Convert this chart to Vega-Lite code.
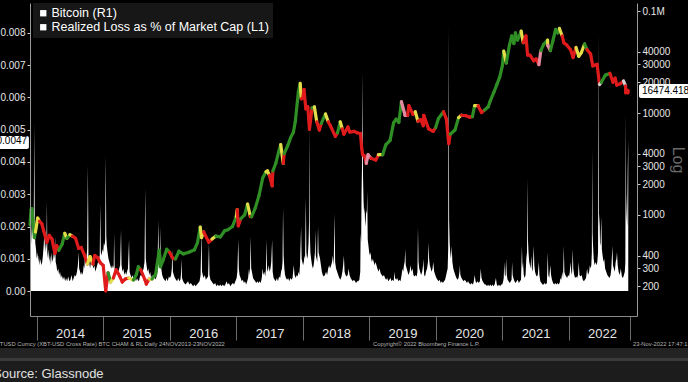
{
"$schema": "https://vega.github.io/schema/vega-lite/v6.json",
"width": 607, "height": 313, "autosize": "none",
"padding": {"left": 30, "top": 3, "right": 51, "bottom": 66},
"background": "#000000",
"config": {"view": {"stroke": null}, "font": "Liberation Sans"},
"resolve": {"scale": {"y": "independent"}, "axis": {"y": "independent", "x": "independent"}},
"layer": [
{"data": {"values": [{}]}, "mark": {"type": "rect", "color": "#232323"},
 "encoding": {
  "x": {"datum": 1364774400000, "type": "temporal", "scale": {"domain": [1385251200000, 1673308800000], "nice": false}, "axis": null},
  "x2": {"datum": 1704067200000},
  "y": {"datum": -0.001767, "type": "quantitative", "scale": {"domain": [-0.000775, 0.00893], "nice": false, "zero": false}, "axis": null},
  "y2": {"datum": -0.002077}}},
{"data": {"values": [{}]}, "mark": {"type": "rect", "color": "#3a3a3a"},
 "encoding": {
  "x": {"datum": 1364774400000, "type": "temporal", "scale": {"domain": [1385251200000, 1673308800000], "nice": false}, "axis": null},
  "x2": {"datum": 1704067200000},
  "y": {"datum": -0.002077, "type": "quantitative", "scale": {"domain": [-0.000775, 0.00893], "nice": false, "zero": false}, "axis": null},
  "y2": {"datum": -0.00217}}},
{"data": {"values": [{}]}, "mark": {"type": "rect", "color": "#1c1c1c"},
 "encoding": {
  "x": {"datum": 1364774400000, "type": "temporal", "scale": {"domain": [1385251200000, 1673308800000], "nice": false}, "axis": null},
  "x2": {"datum": 1704067200000},
  "y": {"datum": -0.00217, "type": "quantitative", "scale": {"domain": [-0.000775, 0.00893], "nice": false, "zero": false}, "axis": null},
  "y2": {"datum": -0.003225}}},
{"data": {"values": [
{"d":"2013-11-24","v":0.0016},{"d":"2013-11-27","v":0.0012},{"d":"2013-11-30","v":0.0015},{"d":"2013-12-03","v":0.0019},{"d":"2013-12-06","v":0.0024},{"d":"2013-12-09","v":0.0018},{"d":"2013-12-12","v":0.0021},{"d":"2013-12-15","v":0.0026},{"d":"2013-12-18","v":0.0052},{"d":"2013-12-20","v":0.0022},{"d":"2013-12-23","v":0.0015},{"d":"2013-12-27","v":0.0013},{"d":"2013-12-31","v":0.0010},
{"d":"2014-01-04","v":0.0012},{"d":"2014-01-08","v":0.0009},{"d":"2014-01-12","v":0.0011},{"d":"2014-01-16","v":0.0008},{"d":"2014-01-20","v":0.0010},{"d":"2014-01-25","v":0.0008},{"d":"2014-01-30","v":0.0009},{"d":"2014-02-03","v":0.0011},{"d":"2014-02-07","v":0.0014},{"d":"2014-02-11","v":0.0018},{"d":"2014-02-15","v":0.0012},{"d":"2014-02-19","v":0.0015},{"d":"2014-02-22","v":0.0013},{"d":"2014-02-25","v":0.0028},{"d":"2014-02-27","v":0.0012},{"d":"2014-03-03","v":0.0010},{"d":"2014-03-07","v":0.0013},{"d":"2014-03-11","v":0.0009},{"d":"2014-03-15","v":0.0011},{"d":"2014-03-19","v":0.0008},{"d":"2014-03-23","v":0.0012},{"d":"2014-03-27","v":0.0009},{"d":"2014-03-31","v":0.0010},{"d":"2014-04-04","v":0.0012},{"d":"2014-04-08","v":0.0010},{"d":"2014-04-11","v":0.0017},{"d":"2014-04-14","v":0.0009},{"d":"2014-04-18","v":0.0008},{"d":"2014-04-23","v":0.0006},{"d":"2014-04-28","v":0.0007},{"d":"2014-05-03","v":0.0005},{"d":"2014-05-08","v":0.0006},{"d":"2014-05-13","v":0.0004},{"d":"2014-05-18","v":0.0005},{"d":"2014-05-24","v":0.00035},{"d":"2014-05-30","v":0.00045},{"d":"2014-06-05","v":0.0003},{"d":"2014-06-10","v":0.0004},{"d":"2014-06-16","v":0.0003},{"d":"2014-06-22","v":0.00045},{"d":"2014-06-28","v":0.0003},{"d":"2014-07-04","v":0.00035},{"d":"2014-07-10","v":0.0005},{"d":"2014-07-16","v":0.0003},{"d":"2014-07-22","v":0.0004},{"d":"2014-07-28","v":0.0005},{"d":"2014-08-03","v":0.00045},{"d":"2014-08-09","v":0.0006},{"d":"2014-08-14","v":0.0008},{"d":"2014-08-18","v":0.0012},{"d":"2014-08-21","v":0.0007},{"d":"2014-08-26","v":0.0006},{"d":"2014-08-31","v":0.0005},{"d":"2014-09-05","v":0.0006},{"d":"2014-09-10","v":0.0005},{"d":"2014-09-15","v":0.0008},{"d":"2014-09-19","v":0.0007},{"d":"2014-09-22","v":0.0012},{"d":"2014-09-26","v":0.0009},{"d":"2014-09-30","v":0.0010},{"d":"2014-10-04","v":0.0013},{"d":"2014-10-08","v":0.0039},{"d":"2014-10-11","v":0.0011},{"d":"2014-10-15","v":0.0009},{"d":"2014-10-20","v":0.0007},{"d":"2014-10-25","v":0.0009},{"d":"2014-10-30","v":0.0010},{"d":"2014-11-03","v":0.0008},{"d":"2014-11-08","v":0.0007},{"d":"2014-11-13","v":0.0008},{"d":"2014-11-18","v":0.0006},{"d":"2014-11-23","v":0.0007},{"d":"2014-11-28","v":0.0008},{"d":"2014-12-03","v":0.0009},{"d":"2014-12-08","v":0.0010},{"d":"2014-12-12","v":0.0011},{"d":"2014-12-15","v":0.0027},{"d":"2014-12-18","v":0.0012},{"d":"2014-12-22","v":0.0011},{"d":"2014-12-27","v":0.0013},{"d":"2014-12-31","v":0.0012},
{"d":"2015-01-04","v":0.0015},{"d":"2015-01-08","v":0.0014},{"d":"2015-01-11","v":0.0016},{"d":"2015-01-14","v":0.0042},{"d":"2015-01-17","v":0.0017},{"d":"2015-01-20","v":0.0014},{"d":"2015-01-24","v":0.0012},{"d":"2015-01-29","v":0.0010},{"d":"2015-02-03","v":0.0009},{"d":"2015-02-08","v":0.0008},{"d":"2015-02-13","v":0.0007},{"d":"2015-02-18","v":0.0008},{"d":"2015-02-23","v":0.0007},{"d":"2015-02-27","v":0.0008},{"d":"2015-03-01","v":0.0018},{"d":"2015-03-04","v":0.0007},{"d":"2015-03-09","v":0.0006},{"d":"2015-03-14","v":0.0005},{"d":"2015-03-19","v":0.0007},{"d":"2015-03-24","v":0.0006},{"d":"2015-03-29","v":0.0007},{"d":"2015-04-03","v":0.0008},{"d":"2015-04-08","v":0.0019},{"d":"2015-04-11","v":0.0008},{"d":"2015-04-16","v":0.0006},{"d":"2015-04-21","v":0.0007},{"d":"2015-04-26","v":0.0005},{"d":"2015-05-01","v":0.0006},{"d":"2015-05-06","v":0.0005},{"d":"2015-05-11","v":0.0006},{"d":"2015-05-16","v":0.0007},{"d":"2015-05-22","v":0.0016},{"d":"2015-05-25","v":0.0006},{"d":"2015-05-30","v":0.0005},{"d":"2015-06-05","v":0.0004},{"d":"2015-06-11","v":0.0005},{"d":"2015-06-17","v":0.0003},{"d":"2015-06-23","v":0.0004},{"d":"2015-06-29","v":0.0003},{"d":"2015-07-05","v":0.0004},{"d":"2015-07-11","v":0.0003},{"d":"2015-07-17","v":0.00035},{"d":"2015-07-23","v":0.0005},{"d":"2015-07-29","v":0.00045},{"d":"2015-08-04","v":0.0006},{"d":"2015-08-10","v":0.0007},{"d":"2015-08-15","v":0.0009},{"d":"2015-08-19","v":0.0032},{"d":"2015-08-22","v":0.0010},{"d":"2015-08-26","v":0.0008},{"d":"2015-08-31","v":0.0006},{"d":"2015-09-05","v":0.0007},{"d":"2015-09-10","v":0.0005},{"d":"2015-09-15","v":0.0006},{"d":"2015-09-20","v":0.0004},{"d":"2015-09-26","v":0.0005},{"d":"2015-10-02","v":0.0004},{"d":"2015-10-08","v":0.0005},{"d":"2015-10-14","v":0.00035},{"d":"2015-10-20","v":0.00045},{"d":"2015-10-25","v":0.0006},{"d":"2015-10-30","v":0.0022},{"d":"2015-11-02","v":0.0008},{"d":"2015-11-06","v":0.0009},{"d":"2015-11-09","v":0.0007},{"d":"2015-11-12","v":0.0020},{"d":"2015-11-15","v":0.0007},{"d":"2015-11-20","v":0.0005},{"d":"2015-11-26","v":0.0004},{"d":"2015-12-02","v":0.00035},{"d":"2015-12-08","v":0.0003},{"d":"2015-12-14","v":0.0004},{"d":"2015-12-20","v":0.0003},{"d":"2015-12-27","v":0.00045},
{"d":"2016-01-02","v":0.0004},{"d":"2016-01-08","v":0.0005},{"d":"2016-01-12","v":0.0007},{"d":"2016-01-15","v":0.0013},{"d":"2016-01-18","v":0.0006},{"d":"2016-01-23","v":0.0005},{"d":"2016-01-29","v":0.0004},{"d":"2016-02-04","v":0.00035},{"d":"2016-02-10","v":0.0003},{"d":"2016-02-16","v":0.0004},{"d":"2016-02-22","v":0.0003},{"d":"2016-02-28","v":0.00035},{"d":"2016-03-02","v":0.0005},{"d":"2016-03-05","v":0.0010},{"d":"2016-03-08","v":0.0004},{"d":"2016-03-14","v":0.0003},{"d":"2016-03-20","v":0.00025},{"d":"2016-03-27","v":0.0002},{"d":"2016-04-03","v":0.00025},{"d":"2016-04-10","v":0.0003},{"d":"2016-04-17","v":0.0002},{"d":"2016-04-24","v":0.00025},{"d":"2016-05-01","v":0.0002},{"d":"2016-05-08","v":0.00015},{"d":"2016-05-15","v":0.0002},{"d":"2016-05-22","v":0.00015},{"d":"2016-05-29","v":0.0002},{"d":"2016-06-05","v":0.00025},{"d":"2016-06-12","v":0.0003},{"d":"2016-06-18","v":0.0005},{"d":"2016-06-23","v":0.0019},{"d":"2016-06-26","v":0.0006},{"d":"2016-06-30","v":0.0005},{"d":"2016-07-05","v":0.0004},{"d":"2016-07-11","v":0.0005},{"d":"2016-07-17","v":0.00035},{"d":"2016-07-23","v":0.0004},{"d":"2016-07-29","v":0.00045},{"d":"2016-08-03","v":0.0015},{"d":"2016-08-06","v":0.0005},{"d":"2016-08-11","v":0.00035},{"d":"2016-08-17","v":0.0003},{"d":"2016-08-23","v":0.00025},{"d":"2016-08-30","v":0.0002},{"d":"2016-09-06","v":0.00025},{"d":"2016-09-13","v":0.00015},{"d":"2016-09-20","v":0.0002},{"d":"2016-09-27","v":0.00015},{"d":"2016-10-04","v":0.0002},{"d":"2016-10-11","v":0.00015},{"d":"2016-10-18","v":0.0002},{"d":"2016-10-25","v":0.00015},{"d":"2016-11-01","v":0.0002},{"d":"2016-11-08","v":0.0003},{"d":"2016-11-14","v":0.0002},{"d":"2016-11-21","v":0.00025},{"d":"2016-11-28","v":0.00015},{"d":"2016-12-05","v":0.0002},{"d":"2016-12-12","v":0.00025},{"d":"2016-12-19","v":0.0002},{"d":"2016-12-26","v":0.0003},
{"d":"2017-01-02","v":0.0004},{"d":"2017-01-06","v":0.0006},{"d":"2017-01-11","v":0.0016},{"d":"2017-01-14","v":0.0007},{"d":"2017-01-18","v":0.0005},{"d":"2017-01-24","v":0.0004},{"d":"2017-01-30","v":0.0003},{"d":"2017-02-05","v":0.00035},{"d":"2017-02-11","v":0.00025},{"d":"2017-02-17","v":0.0003},{"d":"2017-02-23","v":0.0002},{"d":"2017-03-01","v":0.0003},{"d":"2017-03-06","v":0.0004},{"d":"2017-03-11","v":0.0007},{"d":"2017-03-16","v":0.0005},{"d":"2017-03-20","v":0.0017},{"d":"2017-03-23","v":0.0007},{"d":"2017-03-27","v":0.0006},{"d":"2017-04-02","v":0.0004},{"d":"2017-04-08","v":0.00035},{"d":"2017-04-14","v":0.0003},{"d":"2017-04-20","v":0.00025},{"d":"2017-04-26","v":0.0003},{"d":"2017-05-02","v":0.00025},{"d":"2017-05-08","v":0.0003},{"d":"2017-05-14","v":0.00025},{"d":"2017-05-20","v":0.0004},{"d":"2017-05-25","v":0.0007},{"d":"2017-05-29","v":0.0005},{"d":"2017-06-03","v":0.0006},{"d":"2017-06-08","v":0.00045},{"d":"2017-06-12","v":0.0007},{"d":"2017-06-15","v":0.0016},{"d":"2017-06-18","v":0.0007},{"d":"2017-06-22","v":0.0006},{"d":"2017-06-27","v":0.0008},{"d":"2017-07-02","v":0.0006},{"d":"2017-07-07","v":0.0007},{"d":"2017-07-11","v":0.0009},{"d":"2017-07-16","v":0.0016},{"d":"2017-07-19","v":0.0006},{"d":"2017-07-24","v":0.0004},{"d":"2017-07-30","v":0.00035},{"d":"2017-08-05","v":0.0003},{"d":"2017-08-11","v":0.0004},{"d":"2017-08-17","v":0.0003},{"d":"2017-08-23","v":0.00045},{"d":"2017-08-29","v":0.0004},{"d":"2017-09-03","v":0.0006},{"d":"2017-09-08","v":0.0007},{"d":"2017-09-11","v":0.0009},{"d":"2017-09-14","v":0.0026},{"d":"2017-09-17","v":0.0011},{"d":"2017-09-21","v":0.0007},{"d":"2017-09-25","v":0.0005},{"d":"2017-09-30","v":0.0004},{"d":"2017-10-06","v":0.00035},{"d":"2017-10-12","v":0.0004},{"d":"2017-10-18","v":0.0003},{"d":"2017-10-24","v":0.0004},{"d":"2017-10-30","v":0.00035},{"d":"2017-11-05","v":0.0004},{"d":"2017-11-12","v":0.0008},{"d":"2017-11-16","v":0.0005},{"d":"2017-11-22","v":0.0004},{"d":"2017-11-28","v":0.0005},{"d":"2017-12-03","v":0.00045},{"d":"2017-12-08","v":0.0006},{"d":"2017-12-12","v":0.0005},{"d":"2017-12-16","v":0.0008},{"d":"2017-12-22","v":0.0020},{"d":"2017-12-25","v":0.0010},{"d":"2017-12-29","v":0.0009},
{"d":"2018-01-02","v":0.0008},{"d":"2018-01-06","v":0.0009},{"d":"2018-01-10","v":0.0011},{"d":"2018-01-13","v":0.0010},{"d":"2018-01-17","v":0.0029},{"d":"2018-01-20","v":0.0012},{"d":"2018-01-24","v":0.0010},{"d":"2018-01-28","v":0.0011},{"d":"2018-02-01","v":0.0015},{"d":"2018-02-04","v":0.0022},{"d":"2018-02-06","v":0.0051},{"d":"2018-02-08","v":0.0018},{"d":"2018-02-11","v":0.0012},{"d":"2018-02-15","v":0.0010},{"d":"2018-02-20","v":0.0008},{"d":"2018-02-25","v":0.0007},{"d":"2018-03-01","v":0.0008},{"d":"2018-03-05","v":0.0010},{"d":"2018-03-08","v":0.0012},{"d":"2018-03-10","v":0.0019},{"d":"2018-03-13","v":0.0011},{"d":"2018-03-17","v":0.0010},{"d":"2018-03-21","v":0.0009},{"d":"2018-03-25","v":0.0020},{"d":"2018-03-28","v":0.0012},{"d":"2018-04-01","v":0.0011},{"d":"2018-04-05","v":0.0010},{"d":"2018-04-10","v":0.0008},{"d":"2018-04-15","v":0.0006},{"d":"2018-04-20","v":0.0005},{"d":"2018-04-26","v":0.00045},{"d":"2018-05-02","v":0.0005},{"d":"2018-05-08","v":0.0006},{"d":"2018-05-14","v":0.0005},{"d":"2018-05-20","v":0.0007},{"d":"2018-05-25","v":0.0008},{"d":"2018-05-30","v":0.0007},{"d":"2018-06-05","v":0.0008},{"d":"2018-06-10","v":0.0009},{"d":"2018-06-14","v":0.0011},{"d":"2018-06-19","v":0.0008},{"d":"2018-06-24","v":0.0024},{"d":"2018-06-27","v":0.0009},{"d":"2018-07-02","v":0.0007},{"d":"2018-07-08","v":0.0006},{"d":"2018-07-14","v":0.0005},{"d":"2018-07-20","v":0.0004},{"d":"2018-07-26","v":0.00035},{"d":"2018-08-01","v":0.00045},{"d":"2018-08-06","v":0.0006},{"d":"2018-08-10","v":0.0008},{"d":"2018-08-14","v":0.0011},{"d":"2018-08-18","v":0.0006},{"d":"2018-08-23","v":0.0005},{"d":"2018-08-29","v":0.00045},{"d":"2018-09-04","v":0.0005},{"d":"2018-09-09","v":0.0007},{"d":"2018-09-14","v":0.0005},{"d":"2018-09-20","v":0.0004},{"d":"2018-09-26","v":0.00035},{"d":"2018-10-02","v":0.0003},{"d":"2018-10-08","v":0.00035},{"d":"2018-10-14","v":0.0003},{"d":"2018-10-20","v":0.00025},{"d":"2018-10-26","v":0.0003},{"d":"2018-11-01","v":0.0003},{"d":"2018-11-07","v":0.00035},{"d":"2018-11-12","v":0.0006},{"d":"2018-11-14","v":0.0018},{"d":"2018-11-17","v":0.0015},{"d":"2018-11-19","v":0.0030},{"d":"2018-11-22","v":0.0040},{"d":"2018-11-25","v":0.0068},{"d":"2018-11-27","v":0.0036},{"d":"2018-11-30","v":0.0028},{"d":"2018-12-03","v":0.0024},{"d":"2018-12-06","v":0.0026},{"d":"2018-12-09","v":0.0020},{"d":"2018-12-12","v":0.0022},{"d":"2018-12-15","v":0.0025},{"d":"2018-12-18","v":0.0024},{"d":"2018-12-20","v":0.0031},{"d":"2018-12-23","v":0.0016},{"d":"2018-12-27","v":0.0014},{"d":"2018-12-31","v":0.0012},
{"d":"2019-01-04","v":0.0011},{"d":"2019-01-08","v":0.0012},{"d":"2019-01-11","v":0.0010},{"d":"2019-01-15","v":0.0009},{"d":"2019-01-20","v":0.0010},{"d":"2019-01-25","v":0.0009},{"d":"2019-01-30","v":0.0008},{"d":"2019-02-04","v":0.0009},{"d":"2019-02-09","v":0.0008},{"d":"2019-02-14","v":0.0007},{"d":"2019-02-20","v":0.0006},{"d":"2019-02-26","v":0.0007},{"d":"2019-03-04","v":0.00055},{"d":"2019-03-10","v":0.0005},{"d":"2019-03-16","v":0.00045},{"d":"2019-03-22","v":0.0005},{"d":"2019-03-28","v":0.0004},{"d":"2019-04-03","v":0.00035},{"d":"2019-04-09","v":0.0004},{"d":"2019-04-15","v":0.0003},{"d":"2019-04-21","v":0.00035},{"d":"2019-04-27","v":0.0004},{"d":"2019-05-03","v":0.0003},{"d":"2019-05-09","v":0.00035},{"d":"2019-05-15","v":0.0003},{"d":"2019-05-18","v":0.0006},{"d":"2019-05-22","v":0.0004},{"d":"2019-05-28","v":0.00035},{"d":"2019-06-03","v":0.0004},{"d":"2019-06-09","v":0.0003},{"d":"2019-06-15","v":0.00035},{"d":"2019-06-21","v":0.0003},{"d":"2019-06-27","v":0.0005},{"d":"2019-07-02","v":0.0007},{"d":"2019-07-06","v":0.0006},{"d":"2019-07-10","v":0.0008},{"d":"2019-07-14","v":0.0009},{"d":"2019-07-17","v":0.0013},{"d":"2019-07-20","v":0.0008},{"d":"2019-07-25","v":0.0007},{"d":"2019-07-30","v":0.0006},{"d":"2019-08-04","v":0.0005},{"d":"2019-08-10","v":0.0006},{"d":"2019-08-15","v":0.0008},{"d":"2019-08-20","v":0.0006},{"d":"2019-08-26","v":0.0007},{"d":"2019-08-31","v":0.0005},{"d":"2019-09-06","v":0.00045},{"d":"2019-09-12","v":0.0005},{"d":"2019-09-18","v":0.00045},{"d":"2019-09-22","v":0.0006},{"d":"2019-09-25","v":0.0020},{"d":"2019-09-28","v":0.0009},{"d":"2019-10-02","v":0.0007},{"d":"2019-10-07","v":0.0006},{"d":"2019-10-12","v":0.0005},{"d":"2019-10-18","v":0.0006},{"d":"2019-10-23","v":0.0008},{"d":"2019-10-25","v":0.0010},{"d":"2019-10-29","v":0.0005},{"d":"2019-11-03","v":0.00045},{"d":"2019-11-08","v":0.0006},{"d":"2019-11-14","v":0.0007},{"d":"2019-11-19","v":0.0009},{"d":"2019-11-22","v":0.0015},{"d":"2019-11-25","v":0.0010},{"d":"2019-11-29","v":0.0008},{"d":"2019-12-04","v":0.0007},{"d":"2019-12-09","v":0.0006},{"d":"2019-12-14","v":0.0007},{"d":"2019-12-18","v":0.0009},{"d":"2019-12-23","v":0.0006},{"d":"2019-12-29","v":0.0005},
{"d":"2020-01-04","v":0.0004},{"d":"2020-01-10","v":0.00035},{"d":"2020-01-16","v":0.0003},{"d":"2020-01-22","v":0.00035},{"d":"2020-01-28","v":0.00025},{"d":"2020-02-03","v":0.0003},{"d":"2020-02-09","v":0.00025},{"d":"2020-02-15","v":0.0003},{"d":"2020-02-21","v":0.00035},{"d":"2020-02-27","v":0.0005},{"d":"2020-03-02","v":0.0006},{"d":"2020-03-06","v":0.0007},{"d":"2020-03-09","v":0.0013},{"d":"2020-03-12","v":0.0082},{"d":"2020-03-14","v":0.0022},{"d":"2020-03-17","v":0.0015},{"d":"2020-03-20","v":0.0012},{"d":"2020-03-24","v":0.0010},{"d":"2020-03-28","v":0.0014},{"d":"2020-04-01","v":0.0009},{"d":"2020-04-06","v":0.0007},{"d":"2020-04-11","v":0.0006},{"d":"2020-04-17","v":0.0005},{"d":"2020-04-23","v":0.0004},{"d":"2020-04-29","v":0.00035},{"d":"2020-05-05","v":0.0004},{"d":"2020-05-10","v":0.0006},{"d":"2020-05-12","v":0.0008},{"d":"2020-05-15","v":0.0005},{"d":"2020-05-21","v":0.0004},{"d":"2020-05-27","v":0.00035},{"d":"2020-06-02","v":0.0003},{"d":"2020-06-08","v":0.00035},{"d":"2020-06-14","v":0.0003},{"d":"2020-06-20","v":0.00025},{"d":"2020-06-26","v":0.0003},{"d":"2020-07-02","v":0.00025},{"d":"2020-07-08","v":0.0002},{"d":"2020-07-14","v":0.00025},{"d":"2020-07-20","v":0.0002},{"d":"2020-07-26","v":0.00025},{"d":"2020-08-02","v":0.0005},{"d":"2020-08-06","v":0.0003},{"d":"2020-08-12","v":0.00025},{"d":"2020-08-18","v":0.0003},{"d":"2020-08-24","v":0.00025},{"d":"2020-08-30","v":0.0003},{"d":"2020-09-04","v":0.0007},{"d":"2020-09-08","v":0.0004},{"d":"2020-09-14","v":0.0003},{"d":"2020-09-20","v":0.00025},{"d":"2020-09-26","v":0.0002},{"d":"2020-10-02","v":0.0002},{"d":"2020-10-08","v":0.00015},{"d":"2020-10-14","v":0.0002},{"d":"2020-10-20","v":0.00015},{"d":"2020-10-26","v":0.0002},{"d":"2020-11-01","v":0.00015},{"d":"2020-11-07","v":0.0002},{"d":"2020-11-13","v":0.00015},{"d":"2020-11-19","v":0.0002},{"d":"2020-11-26","v":0.0004},{"d":"2020-12-01","v":0.0002},{"d":"2020-12-07","v":0.00015},{"d":"2020-12-13","v":0.0002},{"d":"2020-12-19","v":0.00015},{"d":"2020-12-25","v":0.0002},{"d":"2020-12-31","v":0.0002},
{"d":"2021-01-05","v":0.0003},{"d":"2021-01-08","v":0.0004},{"d":"2021-01-11","v":0.0009},{"d":"2021-01-14","v":0.0005},{"d":"2021-01-18","v":0.00045},{"d":"2021-01-21","v":0.0010},{"d":"2021-01-25","v":0.0005},{"d":"2021-01-29","v":0.00035},{"d":"2021-02-04","v":0.0003},{"d":"2021-02-10","v":0.00025},{"d":"2021-02-16","v":0.0003},{"d":"2021-02-20","v":0.00035},{"d":"2021-02-23","v":0.0009},{"d":"2021-02-26","v":0.0005},{"d":"2021-03-02","v":0.0004},{"d":"2021-03-08","v":0.0003},{"d":"2021-03-14","v":0.00025},{"d":"2021-03-20","v":0.0003},{"d":"2021-03-26","v":0.00035},{"d":"2021-04-01","v":0.00025},{"d":"2021-04-07","v":0.0003},{"d":"2021-04-13","v":0.00035},{"d":"2021-04-18","v":0.0014},{"d":"2021-04-21","v":0.0007},{"d":"2021-04-24","v":0.0009},{"d":"2021-04-28","v":0.0005},{"d":"2021-05-03","v":0.0004},{"d":"2021-05-08","v":0.0005},{"d":"2021-05-12","v":0.0010},{"d":"2021-05-16","v":0.0012},{"d":"2021-05-19","v":0.0035},{"d":"2021-05-21","v":0.0016},{"d":"2021-05-24","v":0.0012},{"d":"2021-05-28","v":0.0009},{"d":"2021-06-01","v":0.0008},{"d":"2021-06-05","v":0.0007},{"d":"2021-06-08","v":0.0011},{"d":"2021-06-12","v":0.0007},{"d":"2021-06-16","v":0.0006},{"d":"2021-06-22","v":0.0014},{"d":"2021-06-25","v":0.0008},{"d":"2021-06-29","v":0.0006},{"d":"2021-07-04","v":0.0005},{"d":"2021-07-09","v":0.00045},{"d":"2021-07-14","v":0.0005},{"d":"2021-07-20","v":0.0009},{"d":"2021-07-23","v":0.0005},{"d":"2021-07-28","v":0.0003},{"d":"2021-08-03","v":0.00025},{"d":"2021-08-09","v":0.0002},{"d":"2021-08-15","v":0.0002},{"d":"2021-08-21","v":0.00025},{"d":"2021-08-27","v":0.0002},{"d":"2021-09-02","v":0.00025},{"d":"2021-09-07","v":0.0012},{"d":"2021-09-10","v":0.0005},{"d":"2021-09-15","v":0.0004},{"d":"2021-09-21","v":0.0008},{"d":"2021-09-25","v":0.0005},{"d":"2021-09-30","v":0.00035},{"d":"2021-10-06","v":0.00025},{"d":"2021-10-12","v":0.0002},{"d":"2021-10-18","v":0.00025},{"d":"2021-10-24","v":0.0002},{"d":"2021-10-30","v":0.00025},{"d":"2021-11-05","v":0.0002},{"d":"2021-11-11","v":0.00025},{"d":"2021-11-16","v":0.0004},{"d":"2021-11-20","v":0.00035},{"d":"2021-11-26","v":0.0006},{"d":"2021-11-30","v":0.0004},{"d":"2021-12-04","v":0.0014},{"d":"2021-12-07","v":0.0006},{"d":"2021-12-12","v":0.0005},{"d":"2021-12-17","v":0.00045},{"d":"2021-12-22","v":0.0004},{"d":"2021-12-28","v":0.0005},
{"d":"2022-01-02","v":0.00045},{"d":"2022-01-06","v":0.0006},{"d":"2022-01-10","v":0.0009},{"d":"2022-01-14","v":0.0006},{"d":"2022-01-18","v":0.0005},{"d":"2022-01-22","v":0.0013},{"d":"2022-01-25","v":0.0007},{"d":"2022-01-30","v":0.0005},{"d":"2022-02-04","v":0.0004},{"d":"2022-02-10","v":0.00045},{"d":"2022-02-15","v":0.0004},{"d":"2022-02-20","v":0.0005},{"d":"2022-02-24","v":0.0009},{"d":"2022-02-28","v":0.0005},{"d":"2022-03-06","v":0.00045},{"d":"2022-03-12","v":0.0005},{"d":"2022-03-18","v":0.00035},{"d":"2022-03-24","v":0.0003},{"d":"2022-03-30","v":0.00035},{"d":"2022-04-05","v":0.0004},{"d":"2022-04-11","v":0.0007},{"d":"2022-04-16","v":0.0005},{"d":"2022-04-22","v":0.0006},{"d":"2022-04-26","v":0.0008},{"d":"2022-04-30","v":0.0007},{"d":"2022-05-04","v":0.0008},{"d":"2022-05-07","v":0.0012},{"d":"2022-05-09","v":0.0044},{"d":"2022-05-11","v":0.0018},{"d":"2022-05-13","v":0.0015},{"d":"2022-05-17","v":0.0010},{"d":"2022-05-22","v":0.0008},{"d":"2022-05-27","v":0.0009},{"d":"2022-06-01","v":0.0008},{"d":"2022-06-06","v":0.0009},{"d":"2022-06-10","v":0.0012},{"d":"2022-06-13","v":0.0080},{"d":"2022-06-15","v":0.0020},{"d":"2022-06-18","v":0.0024},{"d":"2022-06-21","v":0.0014},{"d":"2022-06-24","v":0.0015},{"d":"2022-06-28","v":0.0023},{"d":"2022-07-01","v":0.0013},{"d":"2022-07-05","v":0.0011},{"d":"2022-07-10","v":0.0009},{"d":"2022-07-14","v":0.0010},{"d":"2022-07-19","v":0.0007},{"d":"2022-07-25","v":0.0006},{"d":"2022-07-31","v":0.0005},{"d":"2022-08-06","v":0.00045},{"d":"2022-08-12","v":0.0004},{"d":"2022-08-18","v":0.0005},{"d":"2022-08-22","v":0.0007},{"d":"2022-08-28","v":0.0014},{"d":"2022-08-31","v":0.0008},{"d":"2022-09-05","v":0.0007},{"d":"2022-09-10","v":0.0006},{"d":"2022-09-15","v":0.0009},{"d":"2022-09-19","v":0.0010},{"d":"2022-09-22","v":0.0012},{"d":"2022-09-26","v":0.0008},{"d":"2022-10-01","v":0.0006},{"d":"2022-10-07","v":0.0005},{"d":"2022-10-13","v":0.0007},{"d":"2022-10-19","v":0.00045},{"d":"2022-10-25","v":0.0004},{"d":"2022-10-30","v":0.0005},{"d":"2022-11-04","v":0.0006},{"d":"2022-11-07","v":0.0009},{"d":"2022-11-09","v":0.0055},{"d":"2022-11-11","v":0.0030},{"d":"2022-11-14","v":0.0024},{"d":"2022-11-17","v":0.0020},{"d":"2022-11-20","v":0.0037},{"d":"2022-11-23","v":0.0047}
], "format": {"parse": {"d": "date"}}},
 "mark": {"type": "area", "interpolate": "linear"},
 "encoding": {
  "x": {"field": "d", "type": "temporal", "scale": {"domain": [1385251200000, 1673308800000], "nice": false},
   "axis": {"orient": "bottom", "values": [1388534400000, 1420070400000, 1451606400000, 1483228800000, 1514764800000, 1546300800000, 1577836800000, 1609459200000, 1640995200000, 1670025600000],
    "labels": false, "tickSize": 24, "tickColor": "#6a6a6a", "domainColor": "#8a8a8a", "title": null, "grid": false, "zindex": 2}},
  "y": {"field": "v", "type": "quantitative", "scale": {"domain": [-0.000775, 0.00893], "nice": false, "zero": false},
   "axis": {"orient": "left", "values": [0, 0.001, 0.002, 0.003, 0.004, 0.005, 0.006, 0.007, 0.008], "format": ".3f", "labelExpr": "datum.value == 0 ? '0.00' : datum.label", "grid": false, "title": null, "domainColor": "#9a9a9a", "tickColor": "#cfcfcf", "tickSize": 3, "labelColor": "#e6e6e6", "labelFontSize": 10, "labelPadding": 2, "zindex": 2}},
  "y2": {"datum": 0},
  "fill": {"datum": "Realized Loss as % of Market Cap (L1)", "type": "nominal",
   "scale": {"domain": ["Bitcoin (R1)", "Realized Loss as % of Market Cap (L1)"], "range": ["#ffffff", "#ffffff"]},
   "legend": {"title": null, "orient": "none", "legendX": 3, "legendY": 0, "fillColor": "#171717", "padding": 4, "symbolType": "square", "symbolSize": 40, "symbolStrokeWidth": 0, "labelFontSize": 12.5, "labelColor": "#ffffff", "labelOffset": 2, "rowPadding": 1, "labelLimit": 400}}}},
{"data": {"values": [
{"d":"2013-11-24","p":800,"c":"G"},{"d":"2013-11-30","p":1130,"c":"G"},{"d":"2013-12-04","p":1150,"c":"G"},{"d":"2013-12-10","p":900,"c":"G"},{"d":"2013-12-18","p":600,"c":"G"},{"d":"2013-12-24","p":680,"c":"Y"},
{"d":"2014-01-05","p":930,"c":"Y"},{"d":"2014-01-15","p":870,"c":"R"},{"d":"2014-01-28","p":820,"c":"R"},{"d":"2014-02-07","p":700,"c":"R"},{"d":"2014-02-25","p":540,"c":"R"},{"d":"2014-03-10","p":630,"c":"R"},{"d":"2014-03-25","p":580,"c":"R"},{"d":"2014-04-10","p":420,"c":"R"},{"d":"2014-04-20","p":500,"c":"R"},{"d":"2014-05-01","p":450,"c":"G"},{"d":"2014-05-20","p":520,"c":"G"},{"d":"2014-06-03","p":660,"c":"Y"},{"d":"2014-06-15","p":590,"c":"G"},{"d":"2014-07-01","p":640,"c":"Y"},{"d":"2014-07-15","p":620,"c":"R"},{"d":"2014-08-01","p":590,"c":"R"},{"d":"2014-08-18","p":470,"c":"R"},{"d":"2014-09-01","p":480,"c":"R"},{"d":"2014-09-20","p":400,"c":"R"},{"d":"2014-10-05","p":330,"c":"Y"},{"d":"2014-10-20","p":390,"c":"Y"},{"d":"2014-11-04","p":330,"c":"R"},{"d":"2014-11-15","p":400,"c":"R"},{"d":"2014-12-01","p":380,"c":"R"},{"d":"2014-12-15","p":340,"c":"R"},{"d":"2014-12-31","p":320,"c":"R"},
{"d":"2015-01-14","p":180,"c":"R"},{"d":"2015-01-27","p":270,"c":"G"},{"d":"2015-02-10","p":220,"c":"Y"},{"d":"2015-02-25","p":240,"c":"R"},{"d":"2015-03-12","p":290,"c":"R"},{"d":"2015-04-01","p":250,"c":"R"},{"d":"2015-04-15","p":220,"c":"R"},{"d":"2015-05-01","p":235,"c":"R"},{"d":"2015-05-20","p":240,"c":"Y"},{"d":"2015-06-15","p":230,"c":"G"},{"d":"2015-07-01","p":260,"c":"G"},{"d":"2015-07-12","p":310,"c":"G"},{"d":"2015-07-25","p":290,"c":"R"},{"d":"2015-08-18","p":230,"c":"R"},{"d":"2015-08-25","p":210,"c":"R"},{"d":"2015-09-10","p":235,"c":"Y"},{"d":"2015-09-25","p":235,"c":"G"},{"d":"2015-10-15","p":260,"c":"G"},{"d":"2015-11-04","p":450,"c":"G"},{"d":"2015-11-11","p":310,"c":"G"},{"d":"2015-11-25","p":360,"c":"G"},{"d":"2015-12-15","p":460,"c":"G"},{"d":"2015-12-31","p":430,"c":"R"},
{"d":"2016-01-15","p":380,"c":"R"},{"d":"2016-02-01","p":370,"c":"G"},{"d":"2016-02-20","p":440,"c":"G"},{"d":"2016-03-15","p":415,"c":"G"},{"d":"2016-04-15","p":430,"c":"G"},{"d":"2016-05-15","p":455,"c":"G"},{"d":"2016-06-01","p":535,"c":"G"},{"d":"2016-06-16","p":760,"c":"Y"},{"d":"2016-06-23","p":600,"c":"Y"},{"d":"2016-07-05","p":680,"c":"R"},{"d":"2016-08-02","p":540,"c":"R"},{"d":"2016-08-20","p":580,"c":"Y"},{"d":"2016-09-10","p":620,"c":"G"},{"d":"2016-10-05","p":610,"c":"G"},{"d":"2016-10-28","p":700,"c":"G"},{"d":"2016-11-15","p":715,"c":"G"},{"d":"2016-12-10","p":770,"c":"G"},{"d":"2016-12-31","p":960,"c":"Y"},
{"d":"2017-01-05","p":1130,"c":"R"},{"d":"2017-01-11","p":780,"c":"R"},{"d":"2017-01-25","p":920,"c":"G"},{"d":"2017-02-15","p":1000,"c":"G"},{"d":"2017-03-03","p":1280,"c":"Y"},{"d":"2017-03-18","p":970,"c":"R"},{"d":"2017-03-25","p":960,"c":"G"},{"d":"2017-04-15","p":1180,"c":"G"},{"d":"2017-05-05","p":1550,"c":"G"},{"d":"2017-05-25","p":2300,"c":"G"},{"d":"2017-06-12","p":2650,"c":"Y"},{"d":"2017-06-20","p":2700,"c":"Y"},{"d":"2017-07-01","p":2450,"c":"R"},{"d":"2017-07-16","p":1930,"c":"R"},{"d":"2017-07-20","p":2700,"c":"G"},{"d":"2017-08-05","p":3200,"c":"G"},{"d":"2017-08-20","p":4100,"c":"G"},{"d":"2017-09-01","p":4900,"c":"Y"},{"d":"2017-09-15","p":3200,"c":"R"},{"d":"2017-09-20","p":4000,"c":"G"},{"d":"2017-10-10","p":4800,"c":"G"},{"d":"2017-10-25","p":5700,"c":"G"},{"d":"2017-11-10","p":6500,"c":"G"},{"d":"2017-11-20","p":8200,"c":"G"},{"d":"2017-12-07","p":16000,"c":"G"},{"d":"2017-12-17","p":19500,"c":"Y"},{"d":"2017-12-23","p":13800,"c":"R"},{"d":"2017-12-31","p":14000,"c":"R"},
{"d":"2018-01-07","p":17000,"c":"R"},{"d":"2018-01-17","p":11000,"c":"R"},{"d":"2018-01-28","p":11500,"c":"R"},{"d":"2018-02-06","p":6900,"c":"R"},{"d":"2018-02-20","p":11200,"c":"G"},{"d":"2018-03-05","p":11500,"c":"Y"},{"d":"2018-03-18","p":8200,"c":"R"},{"d":"2018-04-01","p":6800,"c":"R"},{"d":"2018-04-12","p":7900,"c":"G"},{"d":"2018-05-05","p":9800,"c":"Y"},{"d":"2018-05-20","p":8200,"c":"R"},{"d":"2018-06-01","p":7500,"c":"R"},{"d":"2018-06-28","p":5900,"c":"R"},{"d":"2018-07-10","p":6400,"c":"G"},{"d":"2018-07-25","p":8200,"c":"Y"},{"d":"2018-08-05","p":7000,"c":"R"},{"d":"2018-08-14","p":6200,"c":"R"},{"d":"2018-09-05","p":7300,"c":"R"},{"d":"2018-09-15","p":6500,"c":"R"},{"d":"2018-10-10","p":6600,"c":"R"},{"d":"2018-10-25","p":6400,"c":"R"},{"d":"2018-11-13","p":6300,"c":"R"},{"d":"2018-11-20","p":4500,"c":"R"},{"d":"2018-11-25","p":3900,"c":"R"},{"d":"2018-12-05","p":3800,"c":"R"},{"d":"2018-12-15","p":3200,"c":"P"},{"d":"2018-12-25","p":3900,"c":"P"},
{"d":"2019-01-10","p":3600,"c":"R"},{"d":"2019-02-05","p":3450,"c":"R"},{"d":"2019-02-20","p":3900,"c":"Y"},{"d":"2019-03-15","p":3900,"c":"G"},{"d":"2019-04-02","p":4900,"c":"G"},{"d":"2019-04-25","p":5400,"c":"G"},{"d":"2019-05-14","p":8000,"c":"G"},{"d":"2019-05-28","p":8700,"c":"G"},{"d":"2019-06-12","p":8100,"c":"G"},{"d":"2019-06-26","p":12900,"c":"P"},{"d":"2019-07-16","p":9500,"c":"P"},{"d":"2019-07-30","p":9500,"c":"R"},{"d":"2019-08-06","p":11800,"c":"R"},{"d":"2019-08-28","p":9700,"c":"R"},{"d":"2019-09-10","p":10300,"c":"Y"},{"d":"2019-09-25","p":8300,"c":"R"},{"d":"2019-10-10","p":8600,"c":"R"},{"d":"2019-10-24","p":7500,"c":"R"},{"d":"2019-10-27","p":9500,"c":"R"},{"d":"2019-11-22","p":7000,"c":"R"},{"d":"2019-12-17","p":6600,"c":"R"},{"d":"2019-12-31","p":7200,"c":"G"},
{"d":"2020-01-15","p":8800,"c":"G"},{"d":"2020-02-12","p":10300,"c":"R"},{"d":"2020-02-28","p":8700,"c":"R"},{"d":"2020-03-12","p":5000,"c":"R"},{"d":"2020-03-20","p":6200,"c":"G"},{"d":"2020-04-15","p":6800,"c":"G"},{"d":"2020-05-05","p":9000,"c":"Y"},{"d":"2020-05-20","p":9500,"c":"R"},{"d":"2020-06-15","p":9400,"c":"R"},{"d":"2020-07-05","p":9100,"c":"R"},{"d":"2020-07-20","p":9200,"c":"G"},{"d":"2020-08-01","p":11800,"c":"Y"},{"d":"2020-08-20","p":11800,"c":"R"},{"d":"2020-09-08","p":10100,"c":"R"},{"d":"2020-09-25","p":10700,"c":"G"},{"d":"2020-10-15","p":11500,"c":"G"},{"d":"2020-10-25","p":13000,"c":"G"},{"d":"2020-11-15","p":16000,"c":"G"},{"d":"2020-12-01","p":19000,"c":"G"},{"d":"2020-12-17","p":22500,"c":"G"},
{"d":"2021-01-01","p":29300,"c":"G"},{"d":"2021-01-08","p":40500,"c":"Y"},{"d":"2021-01-22","p":31000,"c":"G"},{"d":"2021-02-08","p":46000,"c":"G"},{"d":"2021-02-21","p":57000,"c":"G"},{"d":"2021-03-05","p":48000,"c":"G"},{"d":"2021-03-13","p":61000,"c":"G"},{"d":"2021-03-25","p":52000,"c":"G"},{"d":"2021-04-14","p":63500,"c":"Y"},{"d":"2021-04-25","p":49000,"c":"R"},{"d":"2021-05-10","p":57000,"c":"R"},{"d":"2021-05-19","p":37000,"c":"R"},{"d":"2021-06-01","p":37000,"c":"R"},{"d":"2021-06-22","p":32500,"c":"R"},{"d":"2021-07-05","p":34000,"c":"R"},{"d":"2021-07-20","p":29800,"c":"P"},{"d":"2021-07-31","p":41000,"c":"G"},{"d":"2021-08-15","p":47000,"c":"G"},{"d":"2021-09-06","p":52000,"c":"Y"},{"d":"2021-09-07","p":46000,"c":"P"},{"d":"2021-09-21","p":41000,"c":"G"},{"d":"2021-10-05","p":51000,"c":"G"},{"d":"2021-10-20","p":66000,"c":"G"},{"d":"2021-11-01","p":61000,"c":"G"},{"d":"2021-11-10","p":67500,"c":"Y"},{"d":"2021-11-25","p":57000,"c":"R"},{"d":"2021-12-04","p":49000,"c":"R"},{"d":"2021-12-20","p":46500,"c":"R"},
{"d":"2022-01-10","p":41800,"c":"R"},{"d":"2022-01-24","p":35000,"c":"R"},{"d":"2022-02-09","p":44000,"c":"Y"},{"d":"2022-02-24","p":36000,"c":"Y"},{"d":"2022-03-10","p":39000,"c":"Y"},{"d":"2022-03-28","p":47500,"c":"G"},{"d":"2022-04-10","p":42000,"c":"R"},{"d":"2022-04-30","p":38000,"c":"R"},{"d":"2022-05-12","p":29000,"c":"R"},{"d":"2022-06-05","p":30000,"c":"R"},{"d":"2022-06-18","p":19000,"c":"W"},{"d":"2022-06-28","p":20000,"c":"G"},{"d":"2022-07-20","p":23500,"c":"G"},{"d":"2022-08-14","p":24500,"c":"R"},{"d":"2022-08-31","p":20000,"c":"R"},{"d":"2022-09-12","p":22000,"c":"R"},{"d":"2022-09-21","p":18800,"c":"R"},{"d":"2022-10-10","p":19400,"c":"R"},{"d":"2022-10-28","p":20600,"c":"W"},{"d":"2022-11-08","p":18500,"c":"R"},{"d":"2022-11-09","p":15800,"c":"R"},{"d":"2022-11-15","p":16800,"c":"R"},{"d":"2022-11-21","p":15800,"c":"R"},{"d":"2022-11-23","p":16474.418,"c":"R"}
], "format": {"parse": {"d": "date"}}},
 "transform": [
  {"window": [{"op": "lead", "field": "d", "as": "d2"}, {"op": "lead", "field": "p", "as": "p2"}], "sort": [{"field": "d"}]},
  {"filter": "datum.d2 != null"}
 ],
 "mark": {"type": "rule", "strokeWidth": 3.2, "strokeCap": "round"},
 "encoding": {
  "x": {"field": "d", "type": "temporal", "scale": {"domain": [1385251200000, 1673308800000], "nice": false},
   "axis": {"orient": "bottom", "values": [1404259200000, 1435795200000, 1467417600000, 1498953600000, 1530489600000, 1562025600000, 1593648000000, 1625184000000, 1656720000000],
    "format": "%Y", "ticks": false, "domain": false, "labelPadding": 11, "labelBaseline": "top", "labelAlign": "center", "labelFlush": false, "labelOverlap": false, "labelColor": "#e6e6e6", "labelFontSize": 13, "title": null, "grid": false, "zindex": 2}},
  "x2": {"field": "d2"},
  "y": {"field": "p", "type": "quantitative", "scale": {"type": "log", "domain": [102, 120000], "nice": false},
   "axis": {"orient": "right", "values": [200, 300, 400, 1000, 2000, 3000, 4000, 10000, 20000, 30000, 40000, 100000], "format": "d", "labelExpr": "datum.value >= 100000 ? '0.1M' : datum.label", "grid": false, "domainColor": "#9a9a9a", "tickColor": "#cfcfcf", "tickSize": 3, "labelColor": "#e6e6e6", "labelFontSize": 10, "labelPadding": 2, "zindex": 2,
    "title": "Log", "titleAngle": 90, "titleColor": "#6a6a6a", "titleFontSize": 16, "titleFontWeight": "normal", "titlePadding": 0}},
  "y2": {"field": "p2"},
  "color": {"field": "c", "type": "nominal", "scale": {"domain": ["G", "R", "Y", "P", "W"], "range": ["#2f8f25", "#e01b1b", "#e4dc48", "#e48aa2", "#cfcfcf"]}, "legend": null}}},
{"data": {"values": [{}]}, "mark": {"type": "rect", "color": "#ffffff", "cornerRadius": 2},
 "encoding": {
  "x": {"datum": 1370044800000, "type": "temporal", "scale": {"domain": [1385251200000, 1673308800000], "nice": false}, "axis": null},
  "x2": {"datum": 1384732800000},
  "y": {"datum": 0.004806, "type": "quantitative", "scale": {"domain": [-0.000775, 0.00893], "nice": false, "zero": false}, "axis": null},
  "y2": {"datum": 0.004403}}},
{"data": {"values": [{}]}, "mark": {"type": "text", "text": "0.0047", "color": "#000000", "fontSize": 10, "align": "right", "baseline": "middle", "dy": 2},
 "encoding": {
  "x": {"datum": 1383868800000, "type": "temporal", "scale": {"domain": [1385251200000, 1673308800000], "nice": false}, "axis": null},
  "y": {"datum": 0.0047, "type": "quantitative", "scale": {"domain": [-0.000775, 0.00893], "nice": false, "zero": false}, "axis": null}}},
{"data": {"values": [{}]}, "mark": {"type": "text", "text": "XBTUSD Curncy (XBT-USD Cross Rate) BTC CHAM & RL  Daily 24NOV2013-23NOV2022", "color": "#b4b4b4", "fontSize": 5.8, "align": "left", "baseline": "middle"},
 "encoding": {
  "x": {"datum": 1367280000000, "type": "temporal", "scale": {"domain": [1385251200000, 1673308800000], "nice": false}, "axis": null},
  "y": {"datum": -0.001643, "type": "quantitative", "scale": {"domain": [-0.000775, 0.00893], "nice": false, "zero": false}, "axis": null}}},
{"data": {"values": [{}]}, "mark": {"type": "text", "text": "Copyright© 2022 Bloomberg Finance L.P.", "color": "#b4b4b4", "fontSize": 5.8, "align": "left", "baseline": "middle"},
 "encoding": {
  "x": {"datum": 1548028800000, "type": "temporal", "scale": {"domain": [1385251200000, 1673308800000], "nice": false}, "axis": null},
  "y": {"datum": -0.001643, "type": "quantitative", "scale": {"domain": [-0.000775, 0.00893], "nice": false, "zero": false}, "axis": null}}},
{"data": {"values": [{}]}, "mark": {"type": "text", "text": "23-Nov-2022 17:47:13", "color": "#b4b4b4", "fontSize": 5.8, "align": "left", "baseline": "middle"},
 "encoding": {
  "x": {"datum": 1671408000000, "type": "temporal", "scale": {"domain": [1385251200000, 1673308800000], "nice": false}, "axis": null},
  "y": {"datum": -0.001643, "type": "quantitative", "scale": {"domain": [-0.000775, 0.00893], "nice": false, "zero": false}, "axis": null}}},
{"data": {"values": [{}]}, "mark": {"type": "text", "text": "Source: Glassnode", "color": "#e0e0e0", "fontSize": 13, "align": "left", "baseline": "middle"},
 "encoding": {
  "x": {"datum": 1367712000000, "type": "temporal", "scale": {"domain": [1385251200000, 1673308800000], "nice": false}, "axis": null},
  "y": {"datum": -0.002573, "type": "quantitative", "scale": {"domain": [-0.000775, 0.00893], "nice": false, "zero": false}, "axis": null}}},
{"data": {"values": [{}]}, "mark": {"type": "rect", "color": "#ffffff", "cornerRadius": 2},
 "encoding": {
  "x": {"datum": 1674259200000, "type": "temporal", "scale": {"domain": [1385251200000, 1673308800000], "nice": false}, "axis": null},
  "x2": {"datum": 1698451200000},
  "y": {"datum": 19253, "type": "quantitative", "scale": {"type": "log", "domain": [102, 120000], "nice": false}, "axis": null},
  "y2": {"datum": 14036}}},
{"data": {"values": [{}]}, "mark": {"type": "text", "text": "16474.418", "color": "#000000", "fontSize": 10, "align": "left", "baseline": "middle"},
 "encoding": {
  "x": {"datum": 1675641600000, "type": "temporal", "scale": {"domain": [1385251200000, 1673308800000], "nice": false}, "axis": null},
  "y": {"datum": 16474.418, "type": "quantitative", "scale": {"type": "log", "domain": [102, 120000], "nice": false}, "axis": null}}}
]
}
